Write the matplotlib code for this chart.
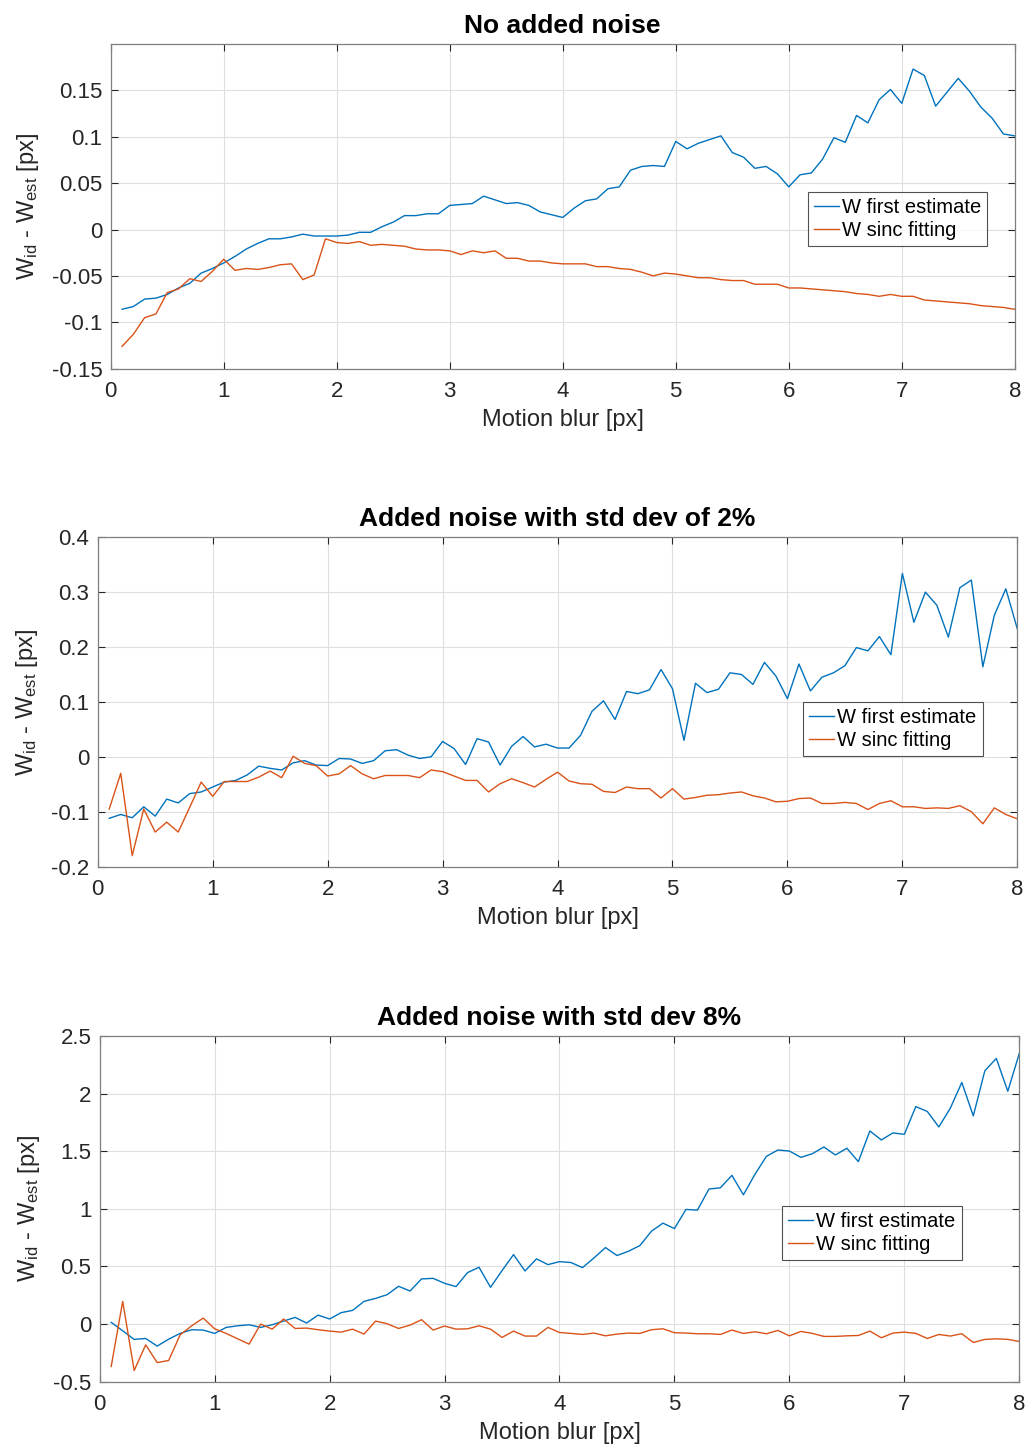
import numpy as np
import matplotlib
matplotlib.use("Agg")
import matplotlib.pyplot as plt

plt.rcParams['font.family'] = ['Liberation Sans', 'DejaVu Sans']
plt.rcParams['mathtext.default'] = 'regular'

# motion blur values (px)
blur = np.round(np.arange(1, 81) * 0.1, 1)

# --- No added noise
first_0 = [-0.086, -0.083, -0.075, -0.074, -0.070, -0.063, -0.058, -0.047, -0.042, -0.036,
           -0.029, -0.021, -0.015, -0.010, -0.010, -0.008, -0.005, -0.007, -0.007, -0.007,
           -0.006, -0.003, -0.003, 0.003, 0.008, 0.015, 0.015, 0.017, 0.017, 0.026,
           0.027, 0.028, 0.036, 0.032, 0.028, 0.029, 0.026, 0.019, 0.016, 0.013,
           0.023, 0.031, 0.033, 0.044, 0.046, 0.064, 0.068, 0.069, 0.068, 0.095,
           0.087, 0.093, 0.097, 0.101, 0.083, 0.078, 0.066, 0.068, 0.060, 0.046,
           0.059, 0.061, 0.076, 0.099, 0.094, 0.123, 0.115, 0.140, 0.151, 0.136,
           0.173, 0.166, 0.133, 0.148, 0.163, 0.149, 0.132, 0.120, 0.103, 0.101]
sinc_0 = [-0.126, -0.113, -0.095, -0.091, -0.068, -0.064, -0.053, -0.056, -0.045, -0.032,
          -0.044, -0.042, -0.043, -0.041, -0.038, -0.037, -0.054, -0.049, -0.010, -0.014,
          -0.015, -0.013, -0.017, -0.016, -0.017, -0.018, -0.021, -0.022, -0.022, -0.023,
          -0.027, -0.023, -0.025, -0.023, -0.031, -0.031, -0.034, -0.034, -0.036, -0.037,
          -0.037, -0.037, -0.040, -0.040, -0.042, -0.043, -0.046, -0.050, -0.047, -0.048,
          -0.050, -0.052, -0.052, -0.054, -0.055, -0.055, -0.059, -0.059, -0.059, -0.063,
          -0.063, -0.064, -0.065, -0.066, -0.067, -0.069, -0.070, -0.072, -0.070, -0.072,
          -0.072, -0.076, -0.077, -0.078, -0.079, -0.080, -0.082, -0.083, -0.084, -0.086]

# --- Added noise with std dev of 2%
first_2 = [-0.112, -0.105, -0.111, -0.091, -0.108, -0.077, -0.084, -0.067, -0.064, -0.055,
           -0.046, -0.043, -0.033, -0.017, -0.021, -0.024, -0.011, -0.007, -0.015, -0.016,
           -0.003, -0.004, -0.012, -0.007, 0.011, 0.013, 0.003, -0.003, 0.000, 0.028,
           0.015, -0.014, 0.033, 0.027, -0.015, 0.019, 0.037, 0.018, 0.023, 0.016,
           0.016, 0.039, 0.083, 0.102, 0.068, 0.119, 0.115, 0.122, 0.159, 0.124,
           0.030, 0.134, 0.117, 0.123, 0.153, 0.150, 0.132, 0.172, 0.147, 0.106,
           0.169, 0.120, 0.145, 0.153, 0.166, 0.199, 0.193, 0.219, 0.186, 0.334,
           0.245, 0.300, 0.276, 0.218, 0.308, 0.322, 0.164, 0.258, 0.306, 0.233]
sinc_2 = [-0.095, -0.030, -0.180, -0.095, -0.137, -0.119, -0.137, -0.092, -0.046, -0.072,
          -0.045, -0.045, -0.045, -0.037, -0.026, -0.038, 0.001, -0.012, -0.016, -0.035,
          -0.031, -0.016, -0.031, -0.040, -0.034, -0.034, -0.034, -0.038, -0.024, -0.027,
          -0.035, -0.043, -0.043, -0.064, -0.049, -0.040, -0.047, -0.055, -0.041, -0.028,
          -0.044, -0.049, -0.050, -0.063, -0.065, -0.055, -0.058, -0.058, -0.075, -0.058,
          -0.077, -0.074, -0.070, -0.069, -0.066, -0.064, -0.071, -0.075, -0.082, -0.081,
          -0.076, -0.075, -0.085, -0.085, -0.083, -0.085, -0.096, -0.085, -0.080, -0.091,
          -0.091, -0.094, -0.093, -0.094, -0.089, -0.100, -0.122, -0.093, -0.105, -0.113]

# --- Added noise with std dev 8%
first_8 = [0.015, -0.058, -0.133, -0.125, -0.191, -0.131, -0.081, -0.049, -0.052, -0.081,
           -0.029, -0.015, -0.006, -0.029, -0.006, 0.026, 0.058, 0.009, 0.078, 0.044,
           0.099, 0.119, 0.197, 0.223, 0.255, 0.328, 0.287, 0.392, 0.397, 0.354,
           0.325, 0.447, 0.493, 0.319, 0.464, 0.603, 0.461, 0.566, 0.516, 0.542,
           0.534, 0.490, 0.574, 0.664, 0.595, 0.632, 0.682, 0.806, 0.876, 0.829,
           0.995, 0.989, 1.172, 1.183, 1.291, 1.122, 1.299, 1.456, 1.511, 1.502,
           1.447, 1.479, 1.537, 1.468, 1.526, 1.410, 1.676, 1.598, 1.659, 1.647,
           1.888, 1.845, 1.711, 1.874, 2.097, 1.807, 2.198, 2.306, 2.021, 2.349]
sinc_8 = [-0.368, 0.197, -0.403, -0.180, -0.334, -0.316, -0.093, -0.015, 0.052, -0.041,
          -0.081, -0.128, -0.174, 0.000, -0.044, 0.044, -0.038, -0.035, -0.049, -0.061,
          -0.070, -0.044, -0.087, 0.026, 0.003, -0.038, -0.009, 0.038, -0.052, -0.017,
          -0.044, -0.041, -0.015, -0.044, -0.116, -0.061, -0.104, -0.104, -0.029, -0.073,
          -0.081, -0.090, -0.078, -0.102, -0.087, -0.078, -0.081, -0.049, -0.041, -0.075,
          -0.078, -0.084, -0.084, -0.090, -0.052, -0.081, -0.067, -0.084, -0.055, -0.102,
          -0.064, -0.081, -0.107, -0.107, -0.102, -0.099, -0.061, -0.119, -0.078, -0.070,
          -0.081, -0.125, -0.090, -0.104, -0.084, -0.160, -0.133, -0.128, -0.133, -0.151]

titles = ["No added noise", "Added noise with std dev of 2%", "Added noise with std dev 8%"]
legend_labels = ["W first estimate", "W sinc fitting"]
xticks = [0, 1, 2, 3, 4, 5, 6, 7, 8]
yticks_0 = [-0.15, -0.1, -0.05, 0, 0.05, 0.1, 0.15]
yticklabels_0 = ["-0.15", "-0.1", "-0.05", "0", "0.05", "0.1", "0.15"]
yticks_2 = [-0.2, -0.1, 0, 0.1, 0.2, 0.3, 0.4]
yticklabels_2 = ["-0.2", "-0.1", "0", "0.1", "0.2", "0.3", "0.4"]
yticks_8 = [-0.5, 0, 0.5, 1, 1.5, 2, 2.5]
yticklabels_8 = ["-0.5", "0", "0.5", "1", "1.5", "2", "2.5"]

blue = '#0072BD'
orange = '#D95319'
axcol = '#262626'

fig = plt.figure(figsize=(10.3, 14.48), dpi=100)

panels = [
    ([0.1075, 0.7454, 0.8777, 0.2242], first_0, sinc_0, (-0.15, 0.2), yticks_0, yticklabels_0, (0.771, 0.544)),
    ([0.0949, 0.4015, 0.8928, 0.2275], first_2, sinc_2, (-0.2, 0.4), yticks_2, yticklabels_2, (0.767, 0.501)),
    ([0.0968, 0.0458, 0.8928, 0.2387], first_8, sinc_8, (-0.5, 2.5), yticks_8, yticklabels_8, (0.742, 0.509)),
]

for i, (pos, first, sinc, ylim, yt, ytl, legpos) in enumerate(panels):
    ax = fig.add_axes(pos)
    ax.plot(blur, first, color=blue, lw=1.0, label=legend_labels[0])
    ax.plot(blur, sinc, color=orange, lw=1.0, label=legend_labels[1])
    ax.set_xlim(0, 8)
    ax.set_ylim(*ylim)
    ax.set_xticks(xticks)
    ax.set_xticklabels([str(t) for t in xticks])
    ax.set_yticks(yt)
    ax.set_yticklabels(ytl)
    ax.grid(True, color='#dfdfdf', lw=0.8)
    ax.set_axisbelow(True)
    ax.tick_params(direction='in', top=True, right=True, labelsize=16, colors=axcol,
                   length=5, width=0.8)
    ax.tick_params(axis='x', pad=9)
    ax.tick_params(axis='y', pad=6)
    for s in ax.spines.values():
        s.set_color('#7f7f7f')
        s.set_linewidth(0.9)
    ax.set_xlabel("Motion blur [px]", fontsize=17, color=axcol, labelpad=5)
    ax.set_ylabel("W$_{id}$ - W$_{est}$ [px]", fontsize=17, color=axcol, labelpad=8)
    ax.set_title(titles[i], fontsize=19, fontweight='bold', color='black', pad=8)
    leg = ax.legend(loc='upper left', bbox_to_anchor=legpos, fontsize=14.5,
                    frameon=True, fancybox=False, edgecolor='#262626',
                    handlelength=1.25, handletextpad=0.15, borderpad=0.3,
                    labelspacing=0.2, borderaxespad=0)
    leg.get_frame().set_linewidth(0.8)

fig.savefig("out.png", dpi=100)
